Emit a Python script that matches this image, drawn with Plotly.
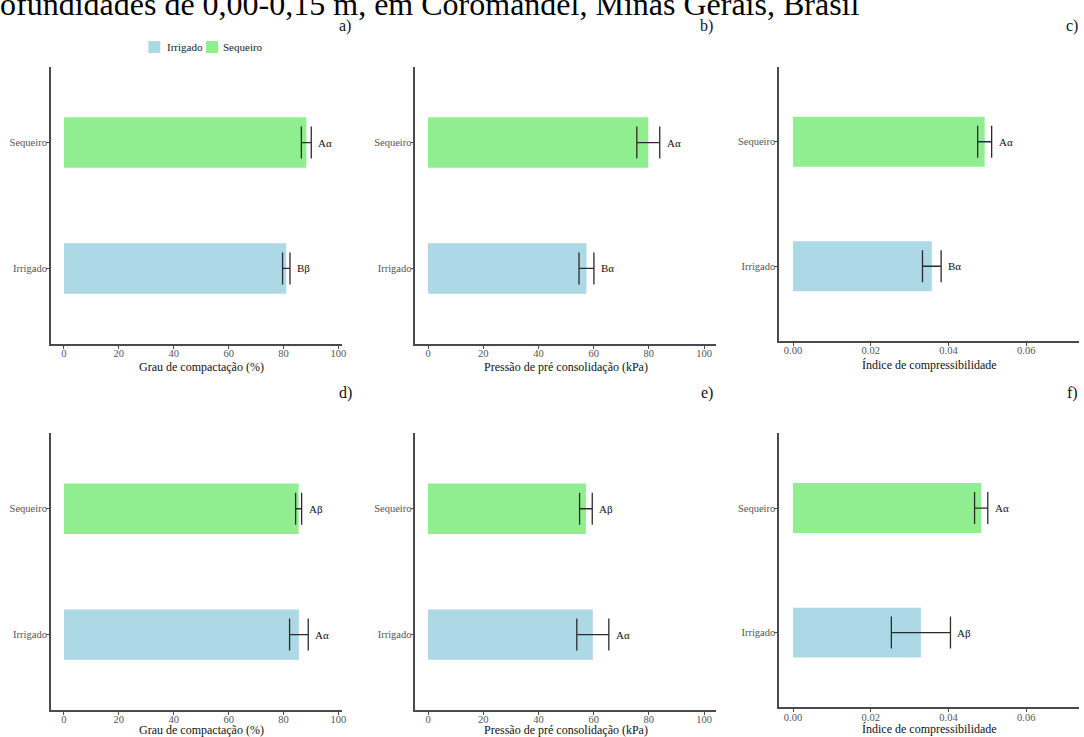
import plotly.graph_objects as go
from plotly.subplots import make_subplots

# ---------------- data ----------------
categories = ["Irrigado", "Sequeiro"]
bar_colors = ["#ADD8E6", "#90EE90"]

grau_top_mean = [81.0, 88.3]
grau_top_err = [1.35, 1.8]
grau_top_letters = ["Bβ", "Aα"]

pressao_top_mean = [57.4, 79.8]
pressao_top_err = [2.7, 4.15]
pressao_top_letters = ["Bα", "Aα"]

indice_top_mean = [0.0357, 0.0493]
indice_top_err = [0.0024, 0.0018]
indice_top_letters = ["Bα", "Aα"]

grau_bot_mean = [85.6, 85.5]
grau_bot_err = [3.4, 1.1]
grau_bot_letters = ["Aα", "Aβ"]

pressao_bot_mean = [59.7, 57.2]
pressao_bot_err = [5.8, 2.3]
pressao_bot_letters = ["Aα", "Aβ"]

indice_bot_mean = [0.0329, 0.0484]
indice_bot_err = [0.0076, 0.0017]
indice_bot_letters = ["Aβ", "Aα"]

pct_ticks = [0, 20, 40, 60, 80, 100]
idx_ticks = [0.0, 0.02, 0.04, 0.06]

titles_x = ["Grau de compactação (%)", "Pressão de pré consolidação (kPa)", "Índice de compressibilidade"]
panel_tags = ["a)", "b)", "c)", "d)", "e)", "f)"]
header = "ofundidades de 0,00-0,15 m, em Coromandel, Minas Gerais, Brasil"

# ---------------- layout helpers ----------------
W, H = 1084, 737
SERIF = "Liberation Serif, Times New Roman, serif"
AX = "#4a4a4a"

def px_x(p):
    return p / W

def px_y(p):
    return 1 - p / H

panels = [
    # mean, err, letters, ticks, fmt, x-range, x-domain(px), y-domain(px), title, title-centre(px)
    (grau_top_mean, grau_top_err, grau_top_letters, pct_ticks, "d", [-4.82, 101.2], (51, 343.3), (67, 344), titles_x[0], (202, 367)),
    (pressao_top_mean, pressao_top_err, pressao_top_letters, pct_ticks, "d", [-4.59, 104.4], (417.3, 719.5), (67, 344), titles_x[1], (569, 367)),
    (indice_top_mean, indice_top_err, indice_top_letters, idx_ticks, ".2f", [-0.00359, 0.07357], (782.7, 1084), (67, 341), titles_x[2], (934, 365)),
    (grau_bot_mean, grau_bot_err, grau_bot_letters, pct_ticks, "d", [-4.82, 101.2], (51, 343.3), (433.3, 710), titles_x[0], (202, 730)),
    (pressao_bot_mean, pressao_bot_err, pressao_bot_letters, pct_ticks, "d", [-4.59, 104.4], (417.3, 719.5), (433.3, 710), titles_x[1], (569, 730)),
    (indice_bot_mean, indice_bot_err, indice_bot_letters, idx_ticks, ".2f", [-0.00359, 0.07357], (782.7, 1084), (433.3, 707.3), titles_x[2], (934, 729)),
]

fig = make_subplots(rows=2, cols=3)

annotations = []
shapes = []
for k, (mean, err, letters, ticks, fmt, xr, xd, yd, xtitle, tpos) in enumerate(panels):
    row, col = k // 3 + 1, k % 3 + 1
    for i, cat in enumerate(categories):
        fig.add_trace(
            go.Bar(
                x=[mean[i]], y=[cat], orientation="h", width=0.4,
                marker=dict(color=bar_colors[i], line=dict(width=0)),
                error_x=dict(type="data", array=[err[i]], visible=True,
                             color="#2b2b2b", thickness=1.3, width=16),
                name=cat, legendgroup=cat, showlegend=False,
            ),
            row=row, col=col,
        )
        annotations.append(dict(
            x=mean[i] + err[i], y=cat, xref=f"x{k+1}", yref=f"y{k+1}",
            text=letters[i], showarrow=False, xanchor="left", xshift=5,
            font=dict(family=SERIF, size=11, color="#111"),
        ))
    axn = "" if k == 0 else str(k + 1)
    fig.layout[f"xaxis{axn}"].update(
        domain=[px_x(xd[0]), px_x(xd[1])], range=xr,
        tickvals=ticks, tickformat=fmt, ticks="outside", ticklen=3,
        tickcolor=AX, showline=True, linecolor=AX, linewidth=1.5,
        showgrid=False, zeroline=False, ticklabelstandoff=-4,
        tickfont=dict(family=SERIF, size=10.5, color="#555"),
    )
    fig.layout[f"yaxis{axn}"].update(
        domain=[px_y(yd[1]), px_y(yd[0])], range=[-0.6, 1.6],
        type="category", categoryorder="array", categoryarray=categories,
        ticks="outside", ticklen=3, tickcolor=AX,
        showline=True, linecolor=AX, linewidth=1.5,
        showgrid=False, zeroline=False, ticklabelstandoff=-3,
        tickfont=dict(family=SERIF, size=10.5, color="#555"),
    )
    # axis title
    annotations.append(dict(
        x=px_x(tpos[0]), y=px_y(tpos[1]), xref="paper", yref="paper", text=xtitle,
        showarrow=False, xanchor="center", yanchor="middle",
        font=dict(family=SERIF, size=12, color="#111"),
    ))

# panel tags
tag_pos = [(347, 26), (710, 26), (1077, 26), (347, 393), (710, 393), (1077, 393)]
for t, (x, y) in zip(panel_tags, tag_pos):
    annotations.append(dict(
        x=px_x(x), y=px_y(y), xref="paper", yref="paper", text=t, showarrow=False,
        xanchor="center", yanchor="middle", font=dict(family=SERIF, size=16, color="#111"),
    ))

# cropped header line
annotations.append(dict(
    x=px_x(-2), y=px_y(4), xref="paper", yref="paper", text=header, showarrow=False,
    xanchor="left", yanchor="middle", font=dict(family=SERIF, size=32, color="#000"),
))

# legend (key squares + labels, ggplot style)
legend_swatch_x = [149, 207]
legend_text_x = [166, 222]
for i, cat in enumerate(categories):
    shapes.append(dict(
        type="rect", xref="paper", yref="paper",
        x0=px_x(legend_swatch_x[i]), x1=px_x(legend_swatch_x[i] + 12),
        y0=px_y(53), y1=px_y(41), fillcolor=bar_colors[i], line=dict(width=0),
    ))
    annotations.append(dict(
        x=px_x(legend_text_x[i]), y=px_y(47), xref="paper", yref="paper", text=cat,
        showarrow=False, xanchor="left", yanchor="middle",
        font=dict(family=SERIF, size=11, color="#222"),
    ))

fig.update_layout(
    width=W, height=H, margin=dict(l=0, r=0, t=0, b=0),
    paper_bgcolor="white", plot_bgcolor="white", barmode="overlay",
    annotations=annotations, shapes=shapes, showlegend=False,
)

fig.write_html(
    "out.html",
    config={"displayModeBar": False},
    post_script="document.body.style.margin='0px';document.body.style.overflow='hidden';",
)
